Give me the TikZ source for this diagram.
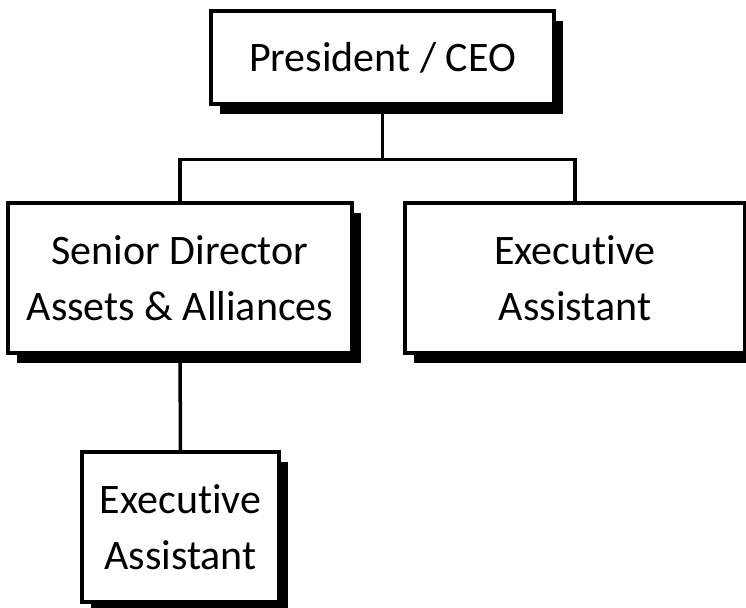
\documentclass[tikz,border=0pt]{standalone}
\usepackage{fontspec}
\setmainfont[Ligatures={NoCommon}]{Carlito}
\usetikzlibrary{shadows}
\usetikzlibrary{backgrounds}
\usetikzlibrary{calc}

\begin{document}
\begin{tikzpicture}[x=1pt,y=-1pt]
        \tikzstyle{post} = [rectangle, draw, line width=3.5pt, fill=white, align=center, inner sep=0pt, font=\fontsize{42}{56}\selectfont, drop shadow={shadow xshift=9pt, shadow yshift=-10pt, fill=black, opacity=1}]
        \tikzstyle{link} = [line width=3.5pt]
        \useasboundingbox (0,0) rectangle (746,607);

        \node[post, minimum width=343pt, minimum height=93pt] (ceo) at (382.5,57.5) {President / CEO};
        \node[post, minimum width=344pt, minimum height=150pt] (sen) at (180,278) {Senior Director\\Assets \& Alliances};
        \node[post, minimum width=340pt, minimum height=150pt] (ea1) at (575,278) {Executive\\Assistant};
        \node[post, minimum width=197pt, minimum height=150pt] (ea2) at (180.5,527) {Executive\\Assistant};

        \begin{scope}[on background layer]
                \coordinate (bar) at ($(ceo.south) + (0,53.5)$);
                \draw[link] (ceo.south) -- (bar);
                \draw[link] (sen.north) |- (bar) -| (ea1.north);
                \draw[link] (sen.south) -- (ea2.north);
        \end{scope}
\end{tikzpicture}
\end{document}
